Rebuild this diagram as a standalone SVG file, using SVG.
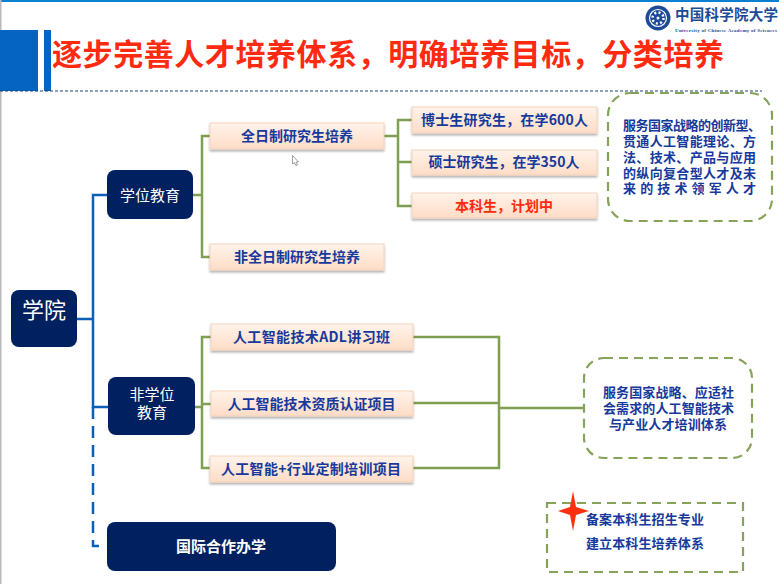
<svg xmlns="http://www.w3.org/2000/svg" width="779" height="584" viewBox="0 0 779 584">
<style>
text{font-family:"Noto Sans CJK SC","Liberation Sans",sans-serif;text-anchor:middle}
.navy{fill:#002060}
.w{fill:#fff}
.peach{fill:url(#pg);stroke:#f3d3bd;stroke-width:1;filter:url(#sh)}
.t{fill:#17399b;font-size:14px;font-weight:700}
.d{fill:none;stroke:#86a35a;stroke-width:2.2;stroke-dasharray:9 6}
.g{fill:none;stroke:#7f9f52;stroke-width:2.5}
.b{fill:none;stroke:#0a5fb8;stroke-width:2.5}
.s{fill:#17399b;font-size:13px;font-weight:700;text-anchor:start}
</style>
<defs>
<linearGradient id="pg" x1="0" y1="0" x2="0" y2="1"><stop offset="0" stop-color="#fff3ea"/><stop offset="1" stop-color="#fedcc6"/></linearGradient>
<filter id="sh" x="-5%" y="-20%" width="110%" height="150%"><feDropShadow dx="0" dy="2" stdDeviation="1" flood-color="#000" flood-opacity=".3"/></filter>
</defs>
<rect width="779" height="584" fill="#fff"/>
<rect x="0" y="0" width="779" height="2" fill="#0b7fd0"/>
<rect x="0" y="0" width="1.5" height="584" fill="#b8b8b8"/>
<g id="header">
<rect x="0" y="30" width="38" height="61" fill="#0563c1"/>
<rect x="44" y="30" width="7" height="61" fill="#0563c1"/>
<path d="M0 91H762" stroke="#1f3f80" stroke-width="1" stroke-dasharray="3 2" fill="none"/>
<text x="388" y="65" font-size="30" font-weight="700" fill="#ff2a10" textLength="672" lengthAdjust="spacing">逐步完善人才培养体系，明确培养目标，分类培养</text>
</g>
<g id="logo">
<circle cx="658" cy="18" r="12.500" fill="#1d4a96"/>
<circle cx="658" cy="18" r="8.500" fill="none" stroke="#fff" stroke-width="1.200"/>
<circle cx="658" cy="18" r="5.500" fill="none" stroke="#fff" stroke-width="2.500" stroke-dasharray="2 2.300"/>
<circle cx="658" cy="18" r="1.500" fill="#fff"/>
<text x="675" y="20" font-size="14.500" font-weight="700" fill="#1d4a96" style="text-anchor:start" textLength="103" lengthAdjust="spacing">中国科学院大学</text>
<text x="675" y="32" font-size="5" font-weight="700" fill="#1d4a96" style="text-anchor:start;font-family:'Liberation Serif',serif" textLength="102" lengthAdjust="spacing">University of Chinese Academy of Sciences</text>
</g>
<g id="connectors">
<path class="b" d="M77 319H93M107 195H93V407H108"/>
<path class="b" d="M93 407V546H101" stroke-dasharray="12 7"/>
<path class="g" d="M193 195H202M210 136H202V257H210"/>
<path class="g" d="M384 136H398M412 120H398V206H412M398 162H412"/>
<path class="g" d="M195 407H202M211 337H202V468H211M202 404H211"/>
<path class="g" d="M413 337H499V468H413M413 403H499M499 408H585"/>
</g>
<g id="n-xueyuan"><rect class="navy" x="11" y="290" width="66" height="57" rx="8"/><text class="w" x="44" y="318" font-size="22">学院</text></g>
<g id="n-degree"><rect class="navy" x="107" y="170" width="86" height="49" rx="8"/><text class="w" x="150" y="201" font-size="15">学位教育</text></g>
<g id="n-nondegree"><rect class="navy" x="108" y="377" width="87" height="58" rx="8"/><text class="w" font-size="15"><tspan x="152" y="400">非学位</tspan><tspan x="152" y="418">教育</tspan></text></g>
<g id="n-intl"><rect class="navy" x="107" y="522" width="229" height="49" rx="8"/><text class="w" x="221" y="552" font-size="15" font-weight="700">国际合作办学</text></g>
<g id="n-ft"><rect class="peach" x="210" y="123" width="174" height="26"/><text class="t" x="297" y="141">全日制研究生培养</text></g>
<g id="n-pt"><rect class="peach" x="210" y="244" width="174" height="26"/><text class="t" x="297" y="262">非全日制研究生培养</text></g>
<g id="n-phd"><rect class="peach" x="412" y="107" width="185" height="26"/><text class="t" x="504.500" y="125" textLength="167" lengthAdjust="spacing">博士生研究生，在学600人</text></g>
<g id="n-ms"><rect class="peach" x="412" y="150" width="185" height="25"/><text class="t" x="504" y="167">硕士研究生，在学350人</text></g>
<g id="n-ug"><rect class="peach" x="412" y="193" width="185" height="25"/><text class="t" x="504" y="211" style="fill:#ff2a10">本科生，计划中</text></g>
<g id="n-adl"><rect class="peach" x="211" y="324" width="202" height="26"/><text class="t" x="311.500" y="342" textLength="157" lengthAdjust="spacing">人工智能技术ADL讲习班</text></g>
<g id="n-cert"><rect class="peach" x="211" y="391" width="202" height="25"/><text class="t" x="311.500" y="409">人工智能技术资质认证项目</text></g>
<g id="n-ind"><rect class="peach" x="210" y="456" width="203" height="26"/><text class="t" x="311" y="474" textLength="180" lengthAdjust="spacing">人工智能+行业定制培训项目</text></g>
<g id="n-goal1"><rect class="d" x="608" y="93" width="164" height="128" rx="22"/>
<text class="s"><tspan x="623" y="130" textLength="138" lengthAdjust="spacing">服务国家战略的创新型、</tspan><tspan x="623" y="146" textLength="133" lengthAdjust="spacing">贯通人工智能理论、方</tspan><tspan x="623" y="162" textLength="133" lengthAdjust="spacing">法、技术、产品与应用</tspan><tspan x="623" y="178" textLength="133" lengthAdjust="spacing">的纵向复合型人才及未</tspan><tspan x="623" y="193" textLength="133" lengthAdjust="spacing">来的技术领军人才</tspan></text></g>
<g id="n-goal2"><rect class="d" x="584" y="358" width="168" height="100" rx="20"/>
<text class="s"><tspan x="603" y="397" textLength="131" lengthAdjust="spacing">服务国家战略、应适社</tspan><tspan x="603" y="413" textLength="131" lengthAdjust="spacing">会需求的人工智能技术</tspan><tspan x="609" y="429" textLength="118" lengthAdjust="spacing">与产业人才培训体系</tspan></text></g>
<g id="n-plan"><rect class="d" x="547" y="503" width="196" height="69"/>
<text class="s" x="586" y="524" textLength="118" lengthAdjust="spacing">备案本科生招生专业</text>
<text class="s" x="586" y="548" textLength="118" lengthAdjust="spacing">建立本科生培养体系</text>
<path d="M573 491L576 507L589 511L576 515L573 531L570 515L558 511L570 507Z" fill="#ff3010"/></g>
<path id="cursor" d="M292.500 155.500V164L294.500 162.500L296 165.500L297.500 165L296 162H298.500Z" fill="#fff" stroke="#777" stroke-width=".7"/>
</svg>
